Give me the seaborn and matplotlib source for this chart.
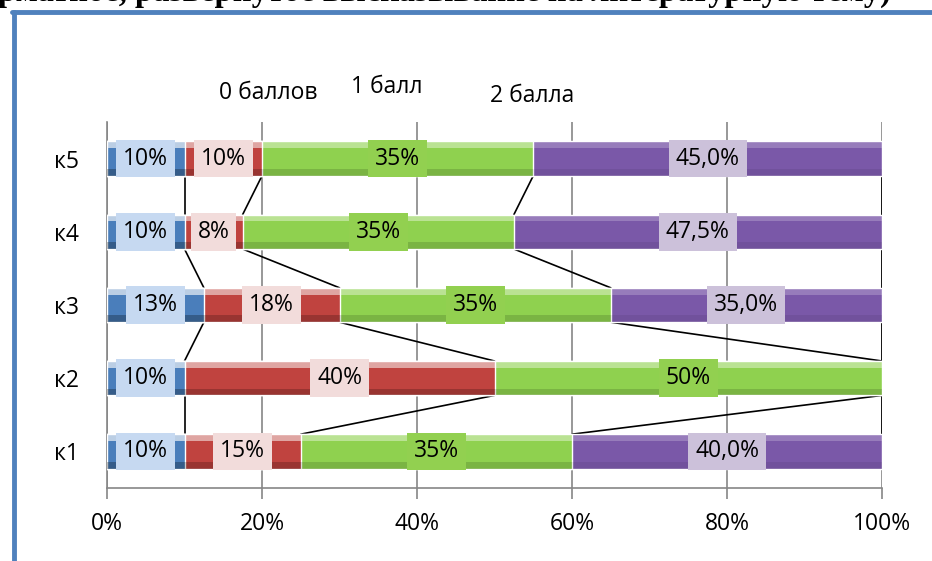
import numpy as np
import pandas as pd
import matplotlib
matplotlib.use("Agg")
import matplotlib.pyplot as plt
import seaborn as sns
from matplotlib.lines import Line2D

# data (top to bottom as drawn)
categories = ["к5", "к4", "к3", "к2", "к1"]
blue_vals = [10, 10, 12.5, 10, 10]
red_vals = [10, 7.5, 17.5, 40, 15]
green_vals = [35, 35, 35, 50, 35]
purple_vals = [45, 47.5, 35, 0, 40]
legend_labels = ["0 баллов", "1 балл", "2 балла"]
x_ticks = [0, 20, 40, 60, 80, 100]

series = [blue_vals, red_vals, green_vals, purple_vals]
bar_colors = ["#4a7ebb", "#c0433f", "#8fd14f", "#7a58a8"]
box_colors = ["#c6d9f1", "#f2dcdb", "#92d050", "#ccc1da"]

sns.set_style("white")
plt.rcParams["font.family"] = ["Open Sans", "DejaVu Sans"]
plt.rcParams["text.color"] = "black"
plt.rcParams["xtick.labelcolor"] = "black"
plt.rcParams["ytick.labelcolor"] = "black"

fig = plt.figure(figsize=(9.32, 5.61), dpi=100)
ax = fig.add_axes([107 / 932, 1 - 488 / 561, 775 / 932, 366 / 561])

vals = np.array(series, dtype=float)
cum = np.cumsum(vals, axis=0)
bar_h = 0.47

# stacked bars: draw cumulative totals from the widest down
for i in range(len(series) - 1, -1, -1):
    df = pd.DataFrame({"cat": categories, "value": cum[i]})
    sns.barplot(data=df, x="value", y="cat", orient="h", color=bar_colors[i],
                saturation=1, width=bar_h, ax=ax, zorder=3)

# slight highlight to mimic bevel look
for p in list(ax.patches):
    x0, y0 = p.get_x(), p.get_y()
    w, h = p.get_width(), p.get_height()
    ax.add_patch(plt.Rectangle((x0, y0), w, h * 0.2, color="white",
                               alpha=0.22, lw=0, zorder=4))
    ax.add_patch(plt.Rectangle((x0, y0 + h * 0.8), w, h * 0.2, color="black",
                               alpha=0.07, lw=0, zorder=4))

# series lines between neighbouring bars
n = len(categories)
for i in range(len(series)):
    for j in range(n - 1):
        ax.plot([cum[i][j + 1], cum[i][j]], [j + 1 - bar_h / 2, j + bar_h / 2],
                color="black", lw=1.2, zorder=2)

# data labels
for i, s in enumerate(series):
    start = cum[i] - vals[i]
    for j, v in enumerate(s):
        if v == 0:
            continue
        if i == 3:
            txt = f"{v:.1f}%".replace(".", ",")
        else:
            txt = f"{int(v + 0.5)}%"
        ax.text(start[j] + v / 2, j, txt, ha="center", va="center",
                fontsize=16.5, zorder=6,
                bbox=dict(boxstyle="square,pad=0.3", fc=box_colors[i], ec="none"))

ax.set_xlim(0, 100)
ax.set_ylim(n - 0.5, -0.5)
ax.set_xticks(x_ticks)
ax.set_xticklabels([f"{t}%" for t in x_ticks], fontsize=16.5)
ax.set_yticks(range(n))
ax.set_yticklabels(categories, fontsize=16.5)
ax.set_xlabel("")
ax.set_ylabel("")
ax.grid(True, axis="x", color="#868686", lw=1.2, zorder=0)
ax.grid(False, axis="y")
ax.tick_params(axis="x", length=8, width=1.2, color="#868686", pad=9, bottom=True)
ax.tick_params(axis="y", length=0, pad=20)
sns.despine(ax=ax, top=True, right=True)
for side in ["left", "bottom"]:
    ax.spines[side].set_color("#868686")
    ax.spines[side].set_linewidth(1.2)

# legend entries (text only)
fig.text(268 / 932, 1 - 93 / 561, legend_labels[0], ha="center", va="center", fontsize=16.5)
fig.text(387 / 932, 1 - 87 / 561, legend_labels[1], ha="center", va="center", fontsize=16.5)
fig.text(532 / 932, 1 - 96 / 561, legend_labels[2], ha="center", va="center", fontsize=16.5)

# page frame and cut-off heading
fig.add_artist(Line2D([14 / 932, 14 / 932], [0, 1 - 12 / 561], color="#4f81bd",
                      lw=3.5, transform=fig.transFigure))
fig.add_artist(Line2D([12 / 932, 1], [1 - 12 / 561, 1 - 12 / 561], color="#4f81bd",
                      lw=3.5, transform=fig.transFigure))
fig.text(-2 / 932, 1 - 0.5 / 561, "рматное, развернутое высказывание на литературную тему)",
         ha="left", va="baseline", fontsize=23.5, fontweight="bold",
         family=["Liberation Serif", "DejaVu Serif"])

fig.savefig("out.png", dpi=100)
